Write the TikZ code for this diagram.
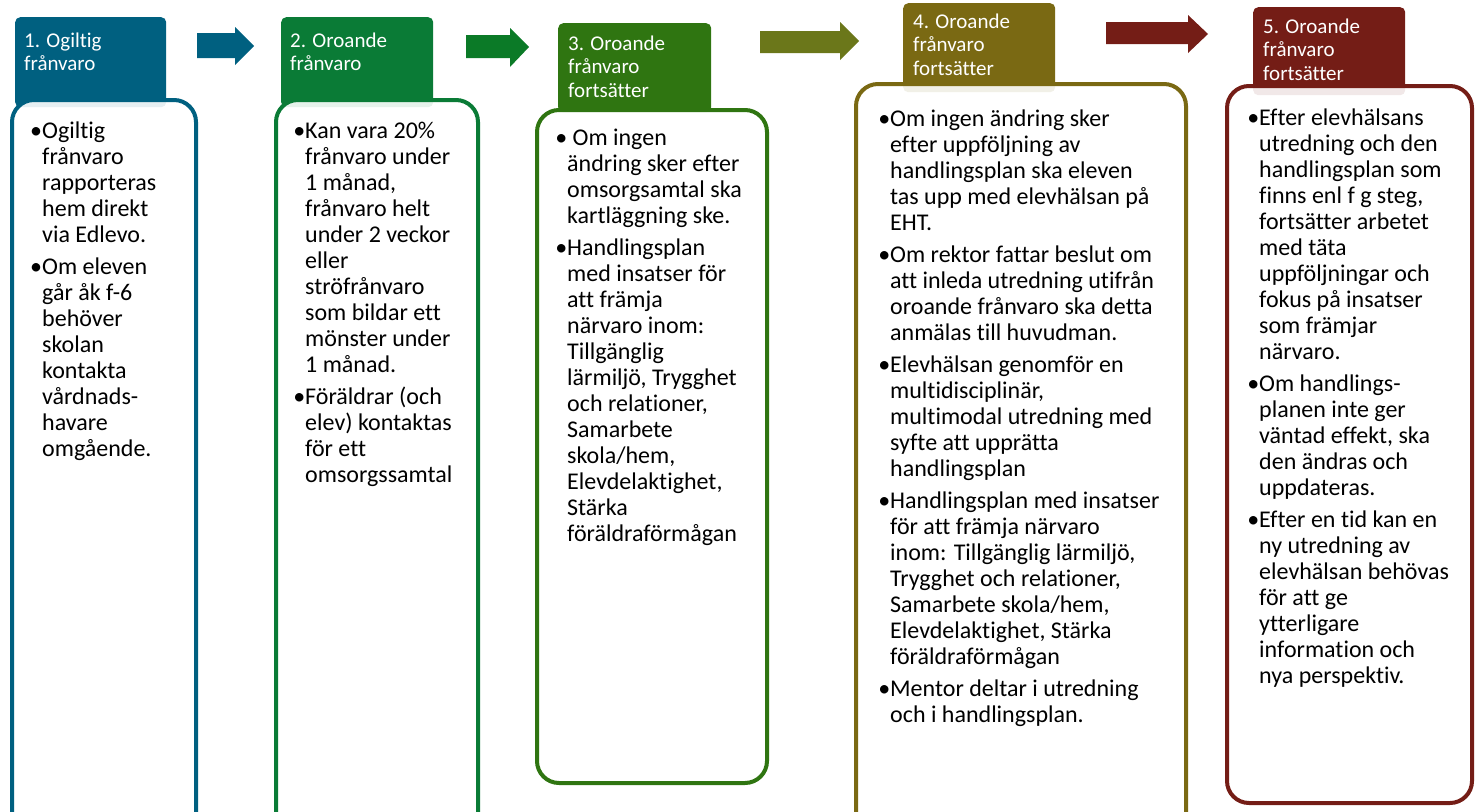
\documentclass[tikz,border=0pt]{standalone}
\usepackage{fontspec}
\setmainfont{Carlito}[Ligatures=NoCommon]
\usepackage{tikz}
\usepackage{xcolor}

\definecolor{stepone}{RGB}{0,96,128}
\definecolor{steptwo}{RGB}{10,123,54}
\definecolor{stepthree}{RGB}{47,117,17}
\definecolor{stepfour}{RGB}{122,105,19}
\definecolor{stepfive}{RGB}{116,29,22}
\definecolor{arrowtwo}{RGB}{11,122,39}
\definecolor{arrowthree}{RGB}{107,119,26}

\newcommand{\bul}{\llap{\textbullet}}

\tikzset{
  tab/.style={fill=#1, rounded corners=5pt, anchor=north west, inner sep=0pt},
  box/.style={draw=#1, line width=4pt, fill=white, fill opacity=0.9, rounded corners=22pt, anchor=north west, inner sep=0pt},
  head/.style={anchor=north west, inner sep=0pt, text=white, align=left, font=\fontsize{21}{23.5}\selectfont},
  body/.style={anchor=north west, inner sep=0pt, align=left, font=\fontsize{24}{26}\selectfont},
}

\begin{document}
\begin{tikzpicture}[x=1pt,y=-1pt]
\useasboundingbox (0,0) rectangle (1480,811);

% arrows between the steps
\fill[stepone] (197,33) -- (235,33) -- (235,27) -- (254,46) -- (235,65) -- (235,58) -- (197,58) -- cycle;
\fill[arrowtwo] (466,35) -- (510,35) -- (510,28) -- (529,47) -- (510,67) -- (510,58) -- (466,58) -- cycle;
\fill[arrowthree] (760,31) -- (840,31) -- (840,22) -- (859,41) -- (840,60) -- (840,53) -- (760,53) -- cycle;
\fill[stepfive] (1106,22) -- (1188,22) -- (1188,15) -- (1208,34) -- (1188,53) -- (1188,44) -- (1106,44) -- cycle;

% header tabs
\node[tab=stepone, minimum width=151, minimum height=90] (tab1) at (15,17) {};
\node[tab=steptwo, minimum width=152, minimum height=90] (tab2) at (281,17) {};
\node[tab=stepthree, minimum width=153, minimum height=89] (tab3) at (558,23) {};
\node[tab=stepfour, minimum width=152, minimum height=89] (tab4) at (903,3) {};
\node[tab=stepfive, minimum width=152, minimum height=88] (tab5) at (1253,7) {};

% boxes
\node[box=stepone, minimum width=184, minimum height=742] (box1) at (10,98) {};
\node[box=steptwo, minimum width=202, minimum height=742] (box2) at (274,98) {};
\node[box=stepthree, minimum width=230, minimum height=673] (box3) at (535,108) {};
\node[box=stepfour, minimum width=330, minimum height=760] (box4) at (854,82) {};
\node[box=stepfive, minimum width=245, minimum height=717] (box5) at (1225,84) {};

% header texts
\node[head] (hd1) at (24,30.5) {\strut 1. Ogiltig\\frånvaro};
\node[head] (hd2) at (290,30.5) {\strut 2. Oroande\\frånvaro};
\node[head] (hd3) at (568,33.5) {\strut 3. Oroande\\frånvaro\\fortsätter};
\node[head] (hd4) at (913,11.5) {\strut 4. Oroande\\frånvaro\\fortsätter};
\node[head] (hd5) at (1263,16.5) {\strut 5. Oroande\\frånvaro\\fortsätter};

% body texts
\node[body] (txt1) at (42,119.8) {\strut\bul Ogiltig\\frånvaro\\rapporteras\\hem direkt\\via Edlevo.\\[6pt]
\bul Om eleven\\går åk f-6\\behöver\\skolan\\kontakta\\vårdnads-\\havare\\omgående.};
\node[body] (txt2) at (305,119.8) {\strut\bul Kan vara 20\%\\frånvaro under\\1 månad,\\frånvaro helt\\under 2 veckor\\eller\\ströfrånvaro\\som bildar ett\\mönster under\\1 månad.\\[6pt]
\bul Föräldrar (och\\elev) kontaktas\\för ett\\omsorgssamtal};
\node[body] (txt3) at (567,126.8) {\strut\bul\ Om ingen\\ändring sker efter\\omsorgsamtal ska\\kartläggning ske.\\[6pt]
\bul Handlingsplan\\med insatser för\\att främja\\närvaro inom:\\Tillgänglig\\lärmiljö, Trygghet\\och relationer,\\Samarbete\\skola/hem,\\Elevdelaktighet,\\Stärka\\föräldraförmågan};
\node[body] (txt4) at (890,107.8) {\strut\bul Om ingen ändring sker\\efter uppföljning av\\handlingsplan ska eleven\\tas upp med elevhälsan på\\EHT.\\[6pt]
\bul Om rektor fattar beslut om\\att inleda utredning utifrån\\oroande frånvaro ska detta\\anmälas till huvudman.\\[6pt]
\bul Elevhälsan genomför en\\multidisciplinär,\\multimodal utredning med\\syfte att upprätta\\handlingsplan\\[6pt]
\bul Handlingsplan med insatser\\för att främja närvaro\\inom: Tillgänglig lärmiljö,\\Trygghet och relationer,\\Samarbete skola/hem,\\Elevdelaktighet, Stärka\\föräldraförmågan\\[6pt]
\bul Mentor deltar i utredning\\och i handlingsplan.};
\node[body] (txt5) at (1259,106.8) {\strut\bul Efter elevhälsans\\utredning och den\\handlingsplan som\\finns enl f g steg,\\fortsätter arbetet\\med täta\\uppföljningar och\\fokus på insatser\\som främjar\\närvaro.\\[6pt]
\bul Om handlings-\\planen inte ger\\väntad effekt, ska\\den ändras och\\uppdateras.\\[6pt]
\bul Efter en tid kan en\\ny utredning av\\elevhälsan behövas\\för att ge\\ytterligare\\information och\\nya perspektiv.};
\end{tikzpicture}
\end{document}
